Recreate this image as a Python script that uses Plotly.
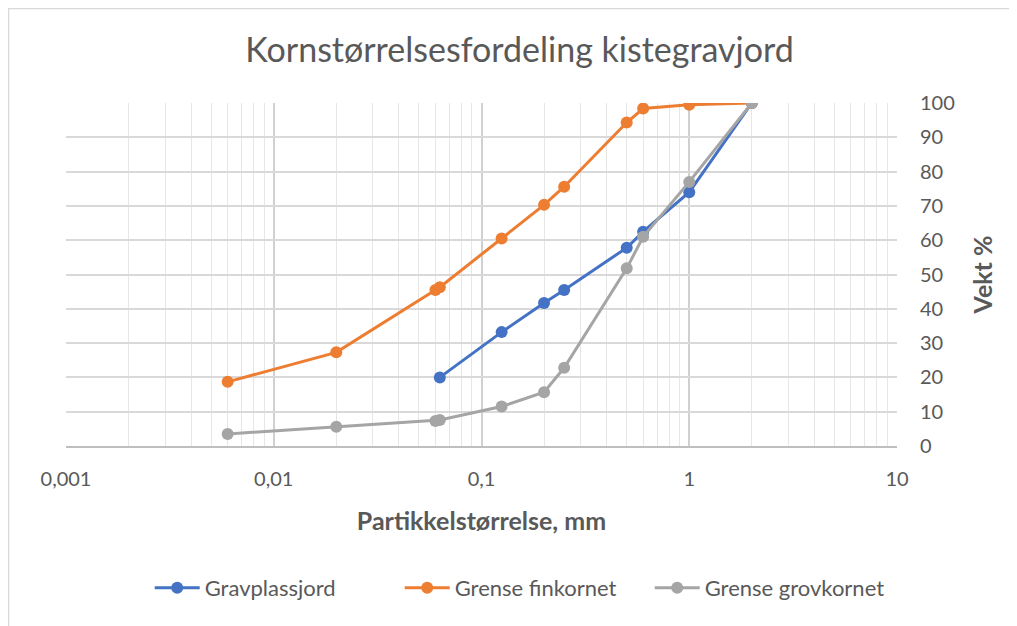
import plotly.graph_objects as go

# Data
grav_x = [0.063, 0.125, 0.2, 0.25, 0.5, 0.6, 1, 2]
grav_y = [20, 33.2, 41.7, 45.5, 57.8, 62.5, 74, 100]

fin_x = [0.006, 0.02, 0.06, 0.063, 0.125, 0.2, 0.25, 0.5, 0.6, 1, 2]
fin_y = [18.7, 27.3, 45.5, 46.3, 60.5, 70.3, 75.6, 94.3, 98.4, 99.5, 100]

grov_x = [0.006, 0.02, 0.06, 0.063, 0.125, 0.2, 0.25, 0.5, 0.6, 1, 2]
grov_y = [3.5, 5.6, 7.3, 7.6, 11.5, 15.7, 22.8, 51.8, 61, 77, 100]

x_tickvals = [0.001, 0.01, 0.1, 1, 10]
x_ticktext = ["0,001", "0,01", "0,1", "1", "10"]
y_tickvals = list(range(0, 101, 10))

title = "Kornstørrelsesfordeling kistegravjord"
x_title = "Partikkelstørrelse, mm"
y_title = "Vekt %"

FONT = "Lato, Open Sans, sans-serif"
TXT = "#595959"

fig = go.Figure()
series = [
    ("Gravplassjord", grav_x, grav_y, "#4472C4"),
    ("Grense finkornet", fin_x, fin_y, "#ED7D31"),
    ("Grense grovkornet", grov_x, grov_y, "#A5A5A5"),
]
for name, xs, ys, col in series:
    fig.add_trace(go.Scatter(
        x=xs, y=ys, name=name, mode="lines+markers",
        line=dict(color=col, width=3),
        marker=dict(color=col, size=12),
    ))

# chart-area border (left and top edges visible)
fig.add_shape(type="rect", xref="paper", yref="paper",
              x0=-0.0692, x1=1.2, y0=-0.7, y1=1.2755,
              line=dict(color="#D9D9D9", width=1.5), layer="below")

fig.update_layout(
    width=1017, height=626,
    paper_bgcolor="white", plot_bgcolor="white",
    margin=dict(l=58, r=128, t=95, b=188, autoexpand=False),
    title=dict(text=title, x=0.503, xref="container", xanchor="center",
               y=0.933, yref="container", yanchor="middle",
               font=dict(family=FONT, size=34, color=TXT)),
    font=dict(family=FONT, color=TXT, size=20),
    showlegend=True,
    legend=dict(orientation="h", x=0.552, xanchor="center", y=-0.414, yanchor="middle",
                font=dict(family=FONT, size=22, color=TXT),
                entrywidth=190, itemwidth=45,
                traceorder="normal"),
    xaxis=dict(
        type="log", range=[-3, 1], automargin=False,
        tickvals=x_tickvals, ticktext=x_ticktext,
        showgrid=True, gridcolor="#D0D0D0", gridwidth=1.5,
        minor=dict(showgrid=True, gridcolor="#E6E6E6", gridwidth=1, dtick="D1", ticks=""),
        showline=True, linecolor="#BFBFBF", linewidth=1.5,
        ticks="", zeroline=False, ticklabelstandoff=14,
        tickfont=dict(family=FONT, size=20, color=TXT),
        title=dict(text="<b>" + x_title + "</b>", standoff=24,
                   font=dict(family=FONT, size=25, color=TXT)),
    ),
    yaxis=dict(
        side="right", range=[0, 100], tickvals=y_tickvals, automargin=False,
        showgrid=True, gridcolor="#D9D9D9", gridwidth=1.5,
        zeroline=False, showline=False, ticks="", ticklabelstandoff=22,
        tickfont=dict(family=FONT, size=20, color=TXT),
        title=dict(text="<b>" + y_title + "</b>", standoff=20,
                   font=dict(family=FONT, size=25, color=TXT)),
    ),
)

fig.write_html("out.html")
